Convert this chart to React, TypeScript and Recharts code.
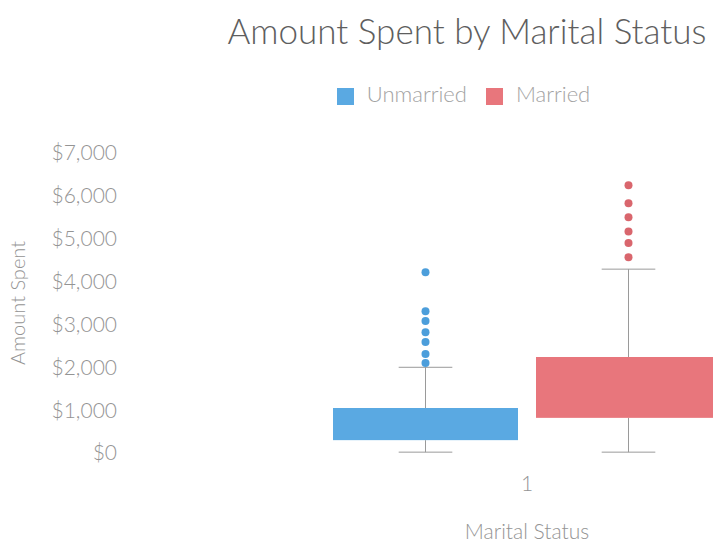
import React from "react";
import { BarChart, Bar, XAxis, YAxis, Legend } from "recharts";

const categories = ["1"];
const seriesNames = ["Unmarried", "Married"];
const seriesColors = ["#5aa9e2", "#e8767c"];
const dotColors = ["#4c9edb", "#d9666d"];
const q1 = [300, 820];
const q3 = [1050, 2240];
const whiskerLow = [20, 20];
const whiskerHigh = [2000, 4290];
const unmarriedOutliers = [2100, 2310, 2590, 2820, 3080, 3310, 4220];
const marriedOutliers = [4570, 4900, 5170, 5500, 5830, 6250];
const outliers = [unmarriedOutliers, marriedOutliers];
const yTicks = [0, 1000, 2000, 3000, 4000, 5000, 6000, 7000];

const data = categories.map((cat) => {
  const row: any = { cat };
  seriesNames.forEach((s, i) => {
    row[s] = [q1[i], q3[i]];
  });
  return row;
});

const FONT = "Lato, 'Open Sans', sans-serif";
const GRAY = "#949494";

// box + whiskers + outliers, scaled off the rect the library hands us
function BoxShape(props: any) {
  const { x, y, width, height, idx } = props;
  const lo = q1[idx];
  const hi = q3[idx];
  const ppu = height / (hi - lo);
  const toY = (v: number) => y + height - (v - lo) * ppu;
  const cx = x + width / 2;
  const cap = width * 0.145;
  const yHigh = toY(whiskerHigh[idx]);
  const yLow = toY(whiskerLow[idx]);
  return (
    <g>
      <line x1={cx} x2={cx} y1={yHigh} y2={y} stroke="#9a9a9a" strokeWidth={1} />
      <line x1={cx} x2={cx} y1={y + height} y2={yLow} stroke="#9a9a9a" strokeWidth={1} />
      <line x1={cx - cap} x2={cx + cap} y1={yHigh} y2={yHigh} stroke="#9a9a9a" strokeWidth={1} />
      <line x1={cx - cap} x2={cx + cap} y1={yLow} y2={yLow} stroke="#9a9a9a" strokeWidth={1} />
      <rect x={x} y={y} width={width} height={height} fill={seriesColors[idx]} />
      {outliers[idx].map((v, k) => (
        <circle key={k} cx={cx} cy={toY(v)} r={4} fill={dotColors[idx]} />
      ))}
    </g>
  );
}

export default function App() {
  return (
    <div
      style={{
        position: "fixed",
        left: 0,
        top: 0,
        width: 713,
        height: 544,
        overflow: "hidden",
        background: "#fff",
        fontFamily: FONT,
      }}
    >
      <div
        style={{
          position: "absolute",
          top: 9,
          left: 0,
          width: 934,
          textAlign: "center",
          fontSize: 35,
          color: "#5e5e5e",
          fontWeight: 300,
          whiteSpace: "nowrap",
        }}
      >
        Amount Spent by Marital Status
      </div>
      <BarChart
        width={950}
        height={544}
        data={data}
        margin={{ top: 153, right: 21, left: 0, bottom: 5 }}
        barSize={185}
        barGap={18}
      >
        <Legend
          verticalAlign="top"
          iconType="square"
          iconSize={17}
          itemSorter={(item: any) => seriesNames.indexOf(item.value)}
          wrapperStyle={{
            position: "absolute",
            top: 80,
            left: 313,
            width: 320,
            height: 0,
            overflow: "visible",
            fontSize: 22,
            fontWeight: 300,
          }}
          formatter={(value: string) => (
            <span style={{ color: "#a3a3a3", marginLeft: 9, marginRight: 9 }}>{value}</span>
          )}
        />
        <XAxis
          dataKey="cat"
          axisLine={false}
          tickLine={false}
          tickMargin={17}
          height={86}
          tick={{ fontSize: 21, fill: GRAY, fontFamily: FONT, fontWeight: 300 }}
          label={{
            value: "Marital Status",
            position: "insideBottom",
            offset: 0,
            fontSize: 21,
            fill: GRAY,
            fontFamily: FONT,
            fontWeight: 300,
          }}
        />
        <YAxis
          width={125}
          domain={[0, 7000]}
          ticks={yTicks}
          interval={0}
          axisLine={false}
          tickLine={false}
          tick={{ fontSize: 21, fill: GRAY, fontFamily: FONT, fontWeight: 300 }}
          tickFormatter={(v: number) => `$${v.toLocaleString("en-US")}`}
          label={{
            content: (p: any) => {
              const vb = p.viewBox;
              const cx = vb.x + 17;
              const cy = vb.y + vb.height / 2;
              return (
                <text
                  x={cx}
                  y={cy}
                  transform={`rotate(-90, ${cx}, ${cy})`}
                  textAnchor="middle"
                  dominantBaseline="central"
                  fontSize={20}
                  fontWeight={300}
                  fill={GRAY}
                  fontFamily={FONT}
                >
                  Amount Spent
                </text>
              );
            },
          }}
        />
        {seriesNames.map((s, i) => (
          <Bar
            key={s}
            dataKey={s}
            name={s}
            fill={seriesColors[i]}
            isAnimationActive={false}
            shape={(p: any) => <BoxShape {...p} idx={i} />}
          />
        ))}
      </BarChart>
    </div>
  );
}
